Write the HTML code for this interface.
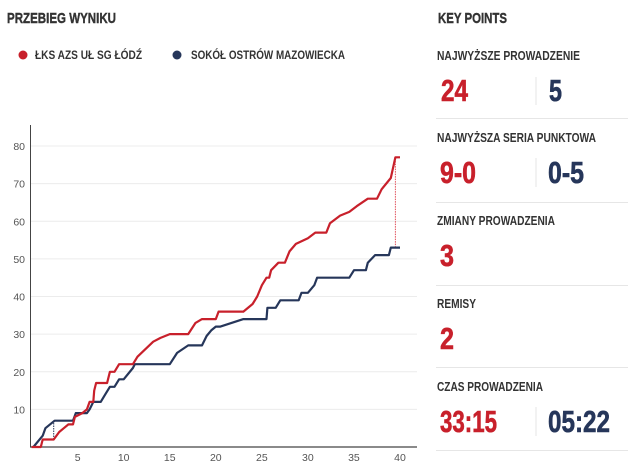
<!DOCTYPE html>
<html><head><meta charset="utf-8"><style>
body{margin:0;background:#fff;width:640px;height:467px;overflow:hidden}
svg{display:block;font-family:"Liberation Sans Narrow","Liberation Sans",sans-serif}
</style></head><body>
<svg id="s" width="640" height="467" viewBox="0 0 640 467">
<text x="7" y="23" font-size="15" font-weight="bold" fill="#333" stroke="#333" stroke-width="0.4" textLength="109" lengthAdjust="spacingAndGlyphs">PRZEBIEG WYNIKU</text>
<text x="438" y="23" font-size="15" font-weight="bold" fill="#333" stroke="#333" stroke-width="0.4" textLength="69" lengthAdjust="spacingAndGlyphs">KEY POINTS</text>
<circle cx="23" cy="55" r="4.5" fill="#c8202b"/>
<text x="35" y="59" font-size="12" font-weight="bold" fill="#333" textLength="107" lengthAdjust="spacingAndGlyphs">ŁKS AZS UŁ SG ŁÓDŹ</text>
<circle cx="177" cy="55" r="4.5" fill="#26365a"/>
<text x="191" y="59" font-size="12" font-weight="bold" fill="#333" textLength="154" lengthAdjust="spacingAndGlyphs">SOKÓŁ OSTRÓW MAZOWIECKA</text>
<g id="grid"></g>
<line x1="30.5" y1="125" x2="30.5" y2="447" stroke="#444" stroke-width="1"/>
<line x1="30" y1="447" x2="417" y2="447" stroke="#444" stroke-width="1.2"/>
<g id="lines"></g>
<g font-weight="bold">
<text x="437" y="60" font-size="12.5" fill="#333" textLength="143" lengthAdjust="spacingAndGlyphs">NAJWYŻSZE PROWADZENIE</text>
<text x="441" y="101" font-size="31" fill="#c8202b" stroke="#c8202b" stroke-width="0.6" textLength="27" lengthAdjust="spacingAndGlyphs">24</text>
<line x1="536" y1="77" x2="536" y2="105" stroke="#e6e6e6"/>
<text x="549" y="101" font-size="31" fill="#26365a" stroke="#26365a" stroke-width="0.6" textLength="13" lengthAdjust="spacingAndGlyphs">5</text>
<line x1="436" y1="118.5" x2="628" y2="118.5" stroke="#e6e6e6"/>

<text x="437" y="142" font-size="12.5" fill="#333" textLength="159" lengthAdjust="spacingAndGlyphs">NAJWYŻSZA SERIA PUNKTOWA</text>
<text x="440" y="183" font-size="31" fill="#c8202b" stroke="#c8202b" stroke-width="0.6" textLength="36" lengthAdjust="spacingAndGlyphs">9-0</text>
<line x1="536" y1="158" x2="536" y2="187" stroke="#e6e6e6"/>
<text x="548" y="183" font-size="31" fill="#26365a" stroke="#26365a" stroke-width="0.6" textLength="36" lengthAdjust="spacingAndGlyphs">0-5</text>
<line x1="436" y1="202.5" x2="628" y2="202.5" stroke="#e6e6e6"/>

<text x="437" y="225" font-size="12.5" fill="#333" textLength="118" lengthAdjust="spacingAndGlyphs">ZMIANY PROWADZENIA</text>
<text x="440" y="266" font-size="31" fill="#c8202b" stroke="#c8202b" stroke-width="0.6" textLength="14" lengthAdjust="spacingAndGlyphs">3</text>
<line x1="436" y1="285.5" x2="628" y2="285.5" stroke="#e6e6e6"/>

<text x="437" y="308" font-size="12.5" fill="#333" textLength="39" lengthAdjust="spacingAndGlyphs">REMISY</text>
<text x="440" y="349" font-size="31" fill="#c8202b" stroke="#c8202b" stroke-width="0.6" textLength="14" lengthAdjust="spacingAndGlyphs">2</text>
<line x1="436" y1="367.5" x2="628" y2="367.5" stroke="#e6e6e6"/>

<text x="437" y="391" font-size="12.5" fill="#333" textLength="106" lengthAdjust="spacingAndGlyphs">CZAS PROWADZENIA</text>
<text x="440" y="432" font-size="31" fill="#c8202b" stroke="#c8202b" stroke-width="0.6" textLength="57" lengthAdjust="spacingAndGlyphs">33:15</text>
<line x1="536" y1="407" x2="536" y2="436" stroke="#e6e6e6"/>
<text x="548" y="432" font-size="31" fill="#26365a" stroke="#26365a" stroke-width="0.6" textLength="62" lengthAdjust="spacingAndGlyphs">05:22</text>
<line x1="436" y1="450.5" x2="628" y2="450.5" stroke="#e6e6e6"/>
</g>
</svg>
<script>
var NS="http://www.w3.org/2000/svg";
function X(m){return 31.6+m*9.21}
function Y(v){return 447-v*3.762}
function el(p,t,a){var e=document.createElementNS(NS,t);for(var k in a)e.setAttribute(k,a[k]);if(a.txt){e.textContent=a.txt;e.removeAttribute("txt")}document.getElementById(p).appendChild(e);return e}
for(var v=10;v<=80;v+=10){el("grid","line",{x1:31,x2:417,y1:Y(v),y2:Y(v),stroke:"#ececec"});el("grid","text",{x:25,y:Y(v)+4,"font-size":10.5,fill:"#555","text-anchor":"end",txt:String(v),"font-family":"Liberation Sans"})}
for(var m=5;m<=40;m+=5){el("grid","text",{x:X(m),y:461,"font-size":10.5,fill:"#555","text-anchor":"middle",txt:String(m),"font-family":"Liberation Sans"})}
var red=[[0,0],[1,0],[1.2,2],[2.4,2],[3,4],[3.5,5],[4,6],[4.5,6],[4.7,8],[5.5,9],[6,10],[6.3,12],[6.7,12],[6.8,15],[7,17],[8.2,17],[8.5,20],[9,20],[9.5,22],[11,22],[11.5,24],[13.2,28],[14,29],[15,30],[17,30],[17.8,33],[18.5,34],[20,34],[20.3,36],[23,36],[24,38],[24.5,40],[25,43],[25.5,45],[25.8,45],[26,47],[26.8,49],[27.5,49],[28,52],[28.7,54],[30,55.5],[30.8,57],[32,57],[32.4,59.5],[33.5,61.5],[34.5,62.5],[35.3,64],[36.5,66],[37.5,66],[38,68.5],[39,71.5],[39.5,77],[40,77]];
var nav=[[0.2,0],[1.2,3],[1.5,5],[2.5,7],[4.5,7],[4.8,9],[6,9],[6.3,10],[6.7,12],[7.5,12],[8,14],[8.5,16],[9,16],[9.5,18],[10,18],[11,21],[11.2,22],[15,22],[15.8,25],[17,27],[18.5,27],[19,29.5],[19.5,31],[20,32],[20.5,32],[23,34],[25.5,34],[25.6,37],[26.5,37],[27,39],[29,39],[29.3,41],[30,41],[30.7,43],[31,45],[34.5,45],[35,47],[36.3,47],[36.5,49],[37.3,51],[38.8,51],[39,53],[40,53]];
function d(a){return a.map(function(p,i){return(i?"L":"M")+X(p[0]).toFixed(1)+","+Y(p[1]).toFixed(1)}).join("")}
el("lines","line",{x1:X(2.4),x2:X(2.4),y1:Y(2),y2:Y(7),stroke:"#26365a","stroke-dasharray":"1.5,1","stroke-width":1});
el("lines","line",{x1:X(39.5),x2:X(39.5),y1:Y(53),y2:Y(77),stroke:"#e0505a","stroke-dasharray":"1.5,1","stroke-width":1});
el("lines","path",{d:d(nav),fill:"none",stroke:"#26365a","stroke-width":2.2,"stroke-linejoin":"round"});
el("lines","path",{d:d(red),fill:"none",stroke:"#c8202b","stroke-width":2.2,"stroke-linejoin":"round"});
</script>
</body></html>
